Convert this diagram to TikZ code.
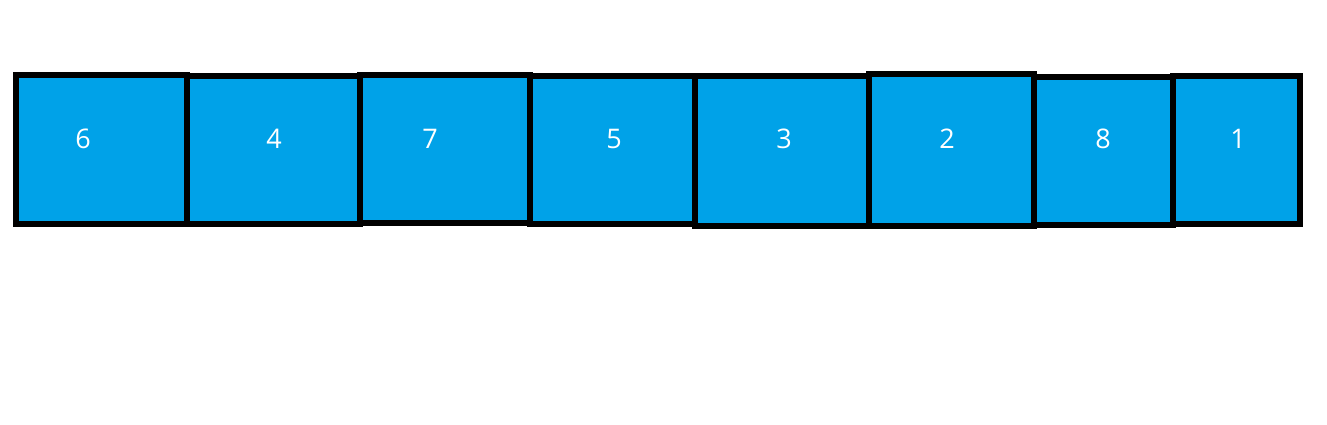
\documentclass[tikz,border=0pt]{standalone}
\usepackage{fontspec}
\setmainfont{Open Sans}
\definecolor{cellblue}{RGB}{0,162,232}
\begin{document}
\begin{tikzpicture}[x=1pt,y=-1pt,
  cell/.style={draw=black,fill=cellblue,line width=6pt,line join=miter},
  num/.style={text=white,font=\fontsize{27}{30}\selectfont,inner sep=0pt,anchor=center}]
\useasboundingbox (0,0) rectangle (1327,424);
\fill[white] (0,0) rectangle (1327,424);
\path[cell] (16,75) rectangle (187,224);
\path[cell] (187,75.5) rectangle (360,224);
\path[cell] (360,74.5) rectangle (530,222.5);
\path[cell] (530,76) rectangle (694.5,223.5);
\path[cell] (694.5,75.5) rectangle (868.5,226);
\path[cell] (868.5,74) rectangle (1034,226);
\path[cell] (1034,76.5) rectangle (1172.5,225);
\path[cell] (1172.5,75.5) rectangle (1299.5,223.5);
\node[num] (n6) at (83,139) {6};
\node[num] (n4) at (274,139) {4};
\node[num] (n7) at (430,139) {7};
\node[num] (n5) at (614,139) {5};
\node[num] (n3) at (784,139) {3};
\node[num] (n2) at (947,139) {2};
\node[num] (n8) at (1103,139) {8};
\node[num] (n1) at (1238,139) {1};
\end{tikzpicture}
\end{document}
